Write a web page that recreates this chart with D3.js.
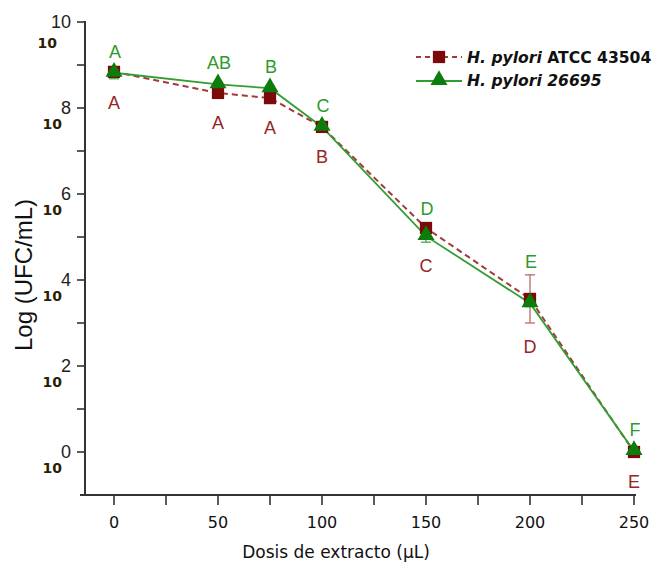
<!DOCTYPE html>
<html>
<head>
<meta charset="utf-8">
<script src="https://cdn.jsdelivr.net/npm/d3@7"></script>
<style>
  html, body { margin: 0; padding: 0; background: #ffffff; }
  svg { display: block; }
</style>
</head>
<body>
<div id="chart"></div>
<script>
// ---- data ----
const doses = [0, 50, 75, 100, 150, 200, 250];
const atccValues = [8.84, 8.35, 8.23, 7.56, 5.21, 3.56, 0.0];
const atccErrors = [0.05, 0.05, 0.05, 0.05, 0.05, 0.56, 0.0];
const atccLetters = ["A", "A", "A", "B", "C", "D", "E"];
const strainValues = [8.82, 8.55, 8.46, 7.56, 5.02, 3.46, 0.02];
const strainErrors = [0.14, 0.05, 0.05, 0.05, 0.14, 0.08, 0.0];
const strainLetters = ["A", "AB", "B", "C", "D", "E", "F"];
const seriesNames = ["ATCC 43504", "26695"];
const xTickValues = [0, 50, 100, 150, 200, 250];
const xMinorTicks = [25, 75, 125, 175, 225];
const yTickValues = [0, 2, 4, 6, 8, 10];
const yMinorTicks = [1, 3, 5, 7, 9];
const xTitle = "Dosis de extracto (µL)";
const yTitle = "Log (UFC/mL)";

// ---- layout ----
const W = 656, H = 562;
const redDark = "#7d0a0a", redLine = "#a33a3a", redText = "#962626";
const greenDark = "#0c7c0c", greenLine = "#339d33", greenText = "#2e9a2e";

const svg = d3.select("#chart").append("svg").attr("width", W).attr("height", H);

const x = d3.scaleLinear().domain([0, 250]).range([114, 634]);
const y = d3.scaleLinear().domain([-1, 10]).range([495, 22]);

const axisColor = "#333";

// x axis
const gx = svg.append("g").attr("transform", "translate(0,495)");
gx.append("line").attr("x1", 80).attr("x2", 636).attr("y1", 0).attr("y2", 0)
  .attr("stroke", axisColor).attr("stroke-width", 2);
gx.selectAll("line.tk").data(xTickValues.concat(xMinorTicks)).enter().append("line")
  .attr("class", "tk")
  .attr("x1", d => x(d)).attr("x2", d => x(d)).attr("y1", 0).attr("y2", 10)
  .attr("stroke", axisColor).attr("stroke-width", 1.6);
gx.selectAll("text").data(xTickValues).enter().append("text")
  .attr("x", d => x(d)).attr("y", 33)
  .attr("text-anchor", "middle")
  .attr("font-family", "DejaVu Sans, Verdana, sans-serif").attr("font-size", 16)
  .attr("fill", "#111").text(d => d);

// y axis
const gy = svg.append("g").attr("transform", "translate(85,0)");
gy.append("line").attr("x1", 0).attr("x2", 0).attr("y1", y(10) - 1).attr("y2", 496)
  .attr("stroke", axisColor).attr("stroke-width", 2);
gy.selectAll("line.tk").data(yTickValues.concat(yMinorTicks)).enter().append("line")
  .attr("class", "tk")
  .attr("x1", -8).attr("x2", 0).attr("y1", d => y(d)).attr("y2", d => y(d))
  .attr("stroke", axisColor).attr("stroke-width", 1.6);
// power-of-ten labels: exponent then base
gy.selectAll("text.exp").data(yTickValues).enter().append("text")
  .attr("class", "exp")
  .attr("x", -14).attr("y", d => y(d) + 6)
  .attr("text-anchor", "end")
  .attr("font-family", "Liberation Sans, Arial, sans-serif").attr("font-size", 18)
  .attr("fill", "#222").text(d => d);
gy.selectAll("text.base").data(yTickValues).enter().append("text")
  .attr("class", "base")
  .attr("x", d => d === 10 ? -28 : -23).attr("y", d => y(d) + (d === 10 ? 26 : 21))
  .attr("text-anchor", "end")
  .attr("font-family", "DejaVu Sans, Verdana, sans-serif").attr("font-size", 14)
  .attr("font-weight", "bold")
  .attr("fill", "#2a1f05").text("10");

// axis titles
svg.append("text")
  .attr("transform", "translate(32,275) rotate(-90)")
  .attr("text-anchor", "middle")
  .attr("font-family", "Liberation Sans, Arial, sans-serif").attr("font-size", 24)
  .attr("fill", "#111").text(yTitle);
svg.append("text")
  .attr("x", 336).attr("y", 558)
  .attr("text-anchor", "middle")
  .attr("font-family", "DejaVu Sans, Verdana, sans-serif").attr("font-size", 17)
  .attr("fill", "#111").text(xTitle);

// build series
const atcc = doses.map((d, i) => ({ x: d, v: atccValues[i], e: atccErrors[i], l: atccLetters[i] }));
const strain = doses.map((d, i) => ({ x: d, v: strainValues[i], e: strainErrors[i], l: strainLetters[i] }));

const line = d3.line().x(d => x(d.x)).y(d => y(d.v));

// error bars
function errorBars(data, color) {
  const g = svg.append("g").attr("stroke", color).attr("stroke-width", 1.3);
  data.filter(d => d.e > 0).forEach(d => {
    const cx = x(d.x), y1 = y(d.v + d.e), y2 = y(d.v - d.e);
    g.append("line").attr("x1", cx).attr("x2", cx).attr("y1", y1).attr("y2", y2);
    g.append("line").attr("x1", cx - 5).attr("x2", cx + 5).attr("y1", y1).attr("y2", y1);
    g.append("line").attr("x1", cx - 5).attr("x2", cx + 5).attr("y1", y2).attr("y2", y2);
  });
}
errorBars(atcc, "#b86a6a");
errorBars(strain, "#4aa84a");

// lines
svg.append("path").datum(atcc).attr("d", line)
  .attr("fill", "none").attr("stroke", redLine).attr("stroke-width", 2)
  .attr("stroke-dasharray", "6,4");
svg.append("path").datum(strain).attr("d", line)
  .attr("fill", "none").attr("stroke", greenLine).attr("stroke-width", 1.8);

// markers
const sq = d3.symbol().type(d3.symbolSquare).size(150);
const tri = d3.symbol().type(d3.symbolTriangle).size(125);
svg.append("g").selectAll("path").data(atcc).enter().append("path")
  .attr("d", sq).attr("transform", d => `translate(${x(d.x)},${y(d.v)})`)
  .attr("fill", redDark);
svg.append("g").selectAll("path").data(strain).enter().append("path")
  .attr("d", tri).attr("transform", d => `translate(${x(d.x)},${y(d.v) - 1})`)
  .attr("fill", greenDark);

// significance letters: placed above / below the pair of points at each dose
const tops = doses.map((d, i) => Math.min(
  y(atccValues[i] + atccErrors[i]) , y(atccValues[i]) - 6,
  y(strainValues[i] + strainErrors[i]), y(strainValues[i]) - 8));
const bottoms = doses.map((d, i) => Math.max(
  y(atccValues[i] - atccErrors[i]), y(atccValues[i]) + 6,
  y(strainValues[i] - strainErrors[i]), y(strainValues[i]) + 6));
svg.append("g").selectAll("text").data(strain).enter().append("text")
  .attr("x", d => x(d.x) + 1).attr("y", (d, i) => tops[i] - 7)
  .attr("text-anchor", "middle")
  .attr("font-family", "Liberation Sans, Arial, sans-serif").attr("font-size", 18)
  .attr("fill", greenText).text(d => d.l);
svg.append("g").selectAll("text").data(atcc).enter().append("text")
  .attr("x", d => x(d.x)).attr("y", (d, i) => bottoms[i] + 30)
  .attr("text-anchor", "middle")
  .attr("font-family", "Liberation Sans, Arial, sans-serif").attr("font-size", 18)
  .attr("fill", redText).text(d => d.l);

// legend
const lg = svg.append("g").attr("transform", "translate(416,0)");
lg.append("line").attr("x1", 0).attr("x2", 46).attr("y1", 57).attr("y2", 57)
  .attr("stroke", redLine).attr("stroke-width", 2).attr("stroke-dasharray", "5,4");
lg.append("path").attr("d", sq).attr("transform", "translate(23,57)").attr("fill", redDark);
lg.append("line").attr("x1", 0).attr("x2", 46).attr("y1", 81).attr("y2", 81)
  .attr("stroke", greenLine).attr("stroke-width", 1.8);
lg.append("path").attr("d", tri).attr("transform", "translate(23,80)").attr("fill", greenDark);
const t1 = lg.append("text").attr("x", 51).attr("y", 63)
  .attr("font-family", "DejaVu Sans, Verdana, sans-serif").attr("font-size", 15.6)
  .attr("font-weight", "bold").attr("fill", "#111");
t1.append("tspan").attr("font-style", "italic").text("H. pylori");
t1.append("tspan").text(" " + seriesNames[0]);
lg.append("text").attr("x", 51).attr("y", 86)
  .attr("font-family", "DejaVu Sans, Verdana, sans-serif").attr("font-size", 15.6)
  .attr("font-weight", "bold").attr("font-style", "italic").attr("fill", "#111")
  .text("H. pylori " + seriesNames[1]);
</script>
</body>
</html>
